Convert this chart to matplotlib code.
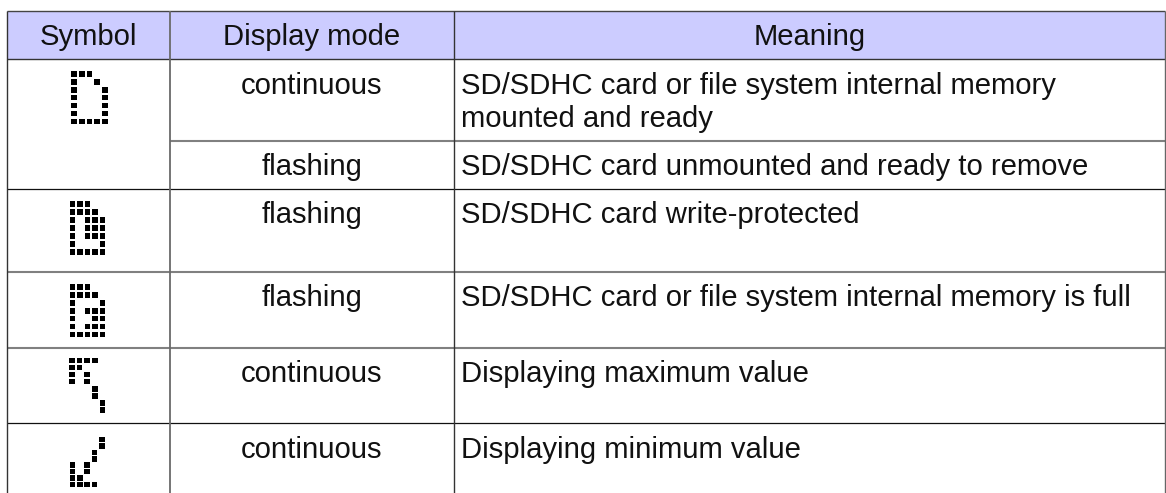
import matplotlib
matplotlib.use("Agg")
import matplotlib.pyplot as plt
from matplotlib.patches import Rectangle

plt.rcParams['font.family'] = ['Liberation Sans', 'DejaVu Sans']

headers = ["Symbol", "Display mode", "Meaning"]

modes = ["continuous", "flashing", "flashing", "flashing", "continuous", "continuous"]

meanings = [["SD/SDHC card or file system internal memory", "mounted and ready"],
            ["SD/SDHC card unmounted and ready to remove"],
            ["SD/SDHC card write-protected"],
            ["SD/SDHC card or file system internal memory is full"],
            ["Displaying maximum value"],
            ["Displaying minimum value"]]

card_ready = ["XXX..",
              "X..X.",
              "X...X",
              "X...X",
              "X...X",
              "X...X",
              "XXXXX"]

card_protected = ["XXX..",
                  "XXXX.",
                  "X.XXX",
                  "X.XXX",
                  "X.XXX",
                  "X...X",
                  "XXXXX"]

card_full = ["XXX..",
             "XXXX.",
             "X...X",
             "X.XXX",
             "X..XX",
             "X.XXX",
             "XXXXX"]

max_value = ["XXXX.",
             "XX...",
             "X.X..",
             "X.X..",
             "...X.",
             "...X.",
             "....X",
             "....X"]

min_value = ["....X",
             "....X",
             "...X.",
             "...X.",
             "X.X..",
             "X.X..",
             "XX...",
             "XXXX."]

W, H = 1166, 493
left, col1, col2, right = 6.5, 170, 453.5, 1165
top, head = 10.5, 58.5

fig = plt.figure(figsize=(W / 100, H / 100), dpi=100)
ax = fig.add_axes([0, 0, 1, 1])
ax.set_xlim(0, W)
ax.set_ylim(H, 0)
ax.axis("off")


def hline(y, x0, x1, color="#222222", lw=0.9):
    ax.plot([x0, x1], [y, y], color=color, lw=lw, solid_capstyle="butt")


def vline(x, y0, y1, color="#333333", lw=1.0):
    ax.plot([x, x], [y0, y1], color=color, lw=lw, solid_capstyle="butt")


def drawSymbol(bitmap, x0, y0, px, py, size=5.6):
    for r, row in enumerate(bitmap):
        for c, ch in enumerate(row):
            if ch == "X":
                ax.add_patch(Rectangle((x0 + c * px - size / 2, y0 + r * py - size / 2),
                                       size, size, fc="black", ec="none"))


ax.add_patch(Rectangle((left, top), right - left, head - top, fc="#CCCCFF", ec="none"))

hline(top, left, right, color="#444444", lw=1.0)
hline(head, left, right, color="#333333", lw=1.0)
hline(141, col1, right, color="#808080", lw=1.5)
hline(189.3, left, right, color="#111111", lw=0.9)
hline(271.7, left, right, color="#808080", lw=1.5)
hline(347.7, left, right, color="#808080", lw=1.5)
hline(423.3, left, right, color="#111111", lw=0.9)

vline(left, top, H)
vline(col1, top, H, color="#6a6a6a", lw=1.3)
vline(col2, top, H, color="#333333", lw=1.0)
vline(right, top, H, color="#666666", lw=1.0)

fs = 21.1
ax.text((left + col1) / 2, 45, headers[0], ha="center", va="baseline", fontsize=fs, color="#111111")
ax.text((col1 + col2) / 2, 45, headers[1], ha="center", va="baseline", fontsize=fs, color="#111111")
ax.text((col2 + right) / 2, 45, headers[2], ha="center", va="baseline", fontsize=fs, color="#111111")

mode_y = [93.5, 175, 223.3, 305.7, 382.3, 457.5]
mean_y = [[93.5, 126.7], [175], [223.3], [305.7], [382.3], [457.5]]
for i in range(len(modes)):
    ax.text((col1 + col2) / 2, mode_y[i], modes[i], ha="center", va="baseline", fontsize=fs, color="#111111")
    for y, line in zip(mean_y[i], meanings[i]):
        ax.text(col2 + 7.5, y, line, ha="left", va="baseline", fontsize=fs, color="#111111")

drawSymbol(card_ready, 74, 74, 7.7, 7.9)
drawSymbol(card_protected, 72.3, 204, 7.5, 8.0)
drawSymbol(card_full, 72.3, 287, 7.5, 7.9)
drawSymbol(max_value, 72, 360.5, 7.6, 7.05)
drawSymbol(min_value, 72.3, 439.5, 7.4, 6.4)

plt.savefig("out.png", dpi=100)
